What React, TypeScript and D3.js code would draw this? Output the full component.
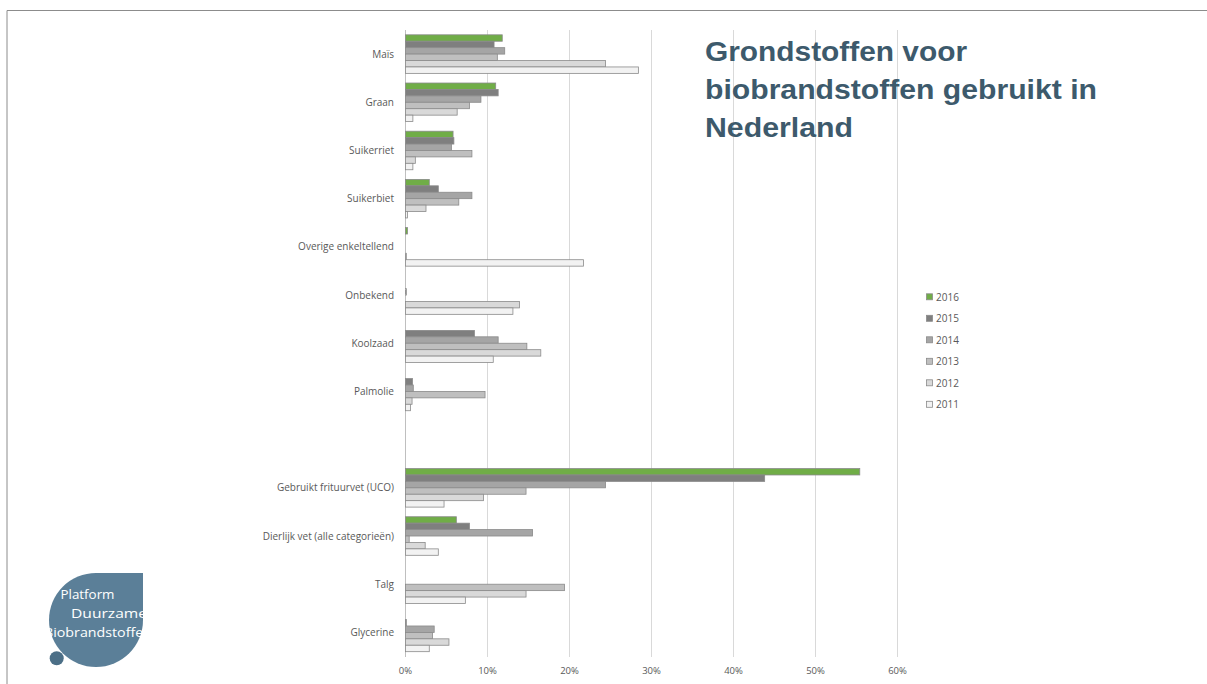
import React from "react";
import * as d3 from "d3";

const categories = [
  "Maïs",
  "Graan",
  "Suikerriet",
  "Suikerbiet",
  "Overige enkeltellend",
  "Onbekend",
  "Koolzaad",
  "Palmolie",
  "",
  "Gebruikt frituurvet (UCO)",
  "Dierlijk vet (alle categorieën)",
  "Talg",
  "Glycerine",
];

const years = ["2016", "2015", "2014", "2013", "2012", "2011"];

const values2016 = [11.8, 11.0, 5.8, 2.9, 0.25, 0, 0, 0, 0, 55.4, 6.2, 0, 0];
const values2015 = [10.8, 11.3, 5.9, 4.0, 0, 0, 8.4, 0.85, 0, 43.8, 7.8, 0, 0.1];
const values2014 = [12.1, 9.2, 5.6, 8.1, 0, 0.1, 11.3, 0.95, 0, 24.4, 15.5, 0, 3.5];
const values2013 = [11.2, 7.8, 8.1, 6.5, 0, 0, 14.8, 9.7, 0, 14.7, 0.45, 19.4, 3.3];
const values2012 = [24.4, 6.3, 1.2, 2.5, 0.1, 13.9, 16.5, 0.8, 0, 9.5, 2.4, 14.7, 5.3];
const values2011 = [28.4, 0.9, 0.9, 0.25, 21.7, 13.1, 10.7, 0.6, 0, 4.7, 4.0, 7.3, 2.9];

const xTicks = [0, 10, 20, 30, 40, 50, 60];

const titleLines = ["Grondstoffen voor", "biobrandstoffen gebruikt in", "Nederland"];

const logoLines = ["Platform", "Duurzame", "Biobrandstoffen"];

const seriesValues: Record<string, number[]> = {
  "2016": values2016,
  "2015": values2015,
  "2014": values2014,
  "2013": values2013,
  "2012": values2012,
  "2011": values2011,
};

const colors: Record<string, string> = {
  "2016": "#70ad47",
  "2015": "#7f7f7f",
  "2014": "#a5a5a5",
  "2013": "#bfbfbf",
  "2012": "#d9d9d9",
  "2011": "#f2f2f2",
};

export default function App() {
  const W = 1207;
  const H = 684;
  const x0 = 405.5;
  const x = d3.scaleLinear().domain([0, 60]).range([x0, x0 + 8.2 * 60]);
  const y = d3
    .scaleBand<string>()
    .domain(categories.map((c, i) => i + ":" + c))
    .range([30, 656.5])
    .paddingInner(0.2)
    .paddingOuter(0.1);
  const yInner = d3.scaleBand<string>().domain(years).range([0, y.bandwidth()]);
  const labelFont = "'Open Sans', 'Liberation Sans', sans-serif";
  const titleWidths = [262, 392, 148];
  const logoX = [60.5, 71, 44];
  const logoW = [54, 76, 108];

  // logo shape
  const cx = 96,
    cy = 620,
    r = 47;
  const logoPath = `M ${cx} ${cy - r} L ${cx + r} ${cy - r} L ${cx + r} ${cy} A ${r} ${r} 0 0 1 ${cx} ${cy + r} A ${r} ${r} 0 0 1 ${cx - r} ${cy} A ${r} ${r} 0 0 1 ${cx} ${cy - r} Z`;

  return (
    <svg
      width={W}
      height={H}
      style={{ position: "absolute", left: 0, top: 0, background: "#fff" }}
    >
      <defs>
        <clipPath id="logoClip">
          <rect x={30} y={560} width={114} height={124} />
        </clipPath>
      </defs>
      {/* frame */}
      <path d={`M 7 ${H + 2} L 7 10.5 L ${W + 2} 10.5`} fill="none" stroke="#8c8c8c" strokeWidth={1} />

      {/* gridlines */}
      {xTicks.map((t) => (
        <line
          key={t}
          x1={x(t)}
          x2={x(t)}
          y1={30}
          y2={657}
          stroke={t === 0 ? "#bfbfbf" : "#d9d9d9"}
          strokeWidth={1}
        />
      ))}

      {/* bars */}
      {categories.map((c, i) => {
        const key = i + ":" + c;
        const by = y(key) as number;
        return (
          <g key={key}>
            {years.map((yr) => {
              const v = seriesValues[yr][i];
              if (!v) return null;
              return (
                <rect
                  key={yr}
                  x={x(0)}
                  y={by + (yInner(yr) as number)}
                  width={x(v) - x(0)}
                  height={yInner.bandwidth()}
                  fill={colors[yr]}
                  stroke="#8a8a8a"
                  strokeWidth={0.8}
                />
              );
            })}
            {c && (
              <text
                x={394}
                y={by + y.bandwidth() / 2}
                dy="0.35em"
                textAnchor="end"
                fontFamily={labelFont}
                fontSize={10}
                fill="#595959"
              >
                {c}
              </text>
            )}
          </g>
        );
      })}

      {/* x tick labels */}
      {xTicks.map((t) => (
        <text
          key={t}
          x={x(t)}
          y={671}
          dy="0.35em"
          textAnchor="middle"
          fontFamily={labelFont}
          fontSize={9.5}
          fill="#595959"
        >
          {t + "%"}
        </text>
      ))}

      {/* legend */}
      {years.map((yr, i) => (
        <g key={yr} transform={`translate(926, ${297.3 + i * 21.5})`}>
          <rect x={0.5} y={-3.5} width={6} height={6} fill={colors[yr]} stroke="#8a8a8a" strokeWidth={0.8} />
          <text x={10} y={0} dy="0.35em" fontFamily={labelFont} fontSize={10} fill="#595959">
            {yr}
          </text>
        </g>
      ))}

      {/* title */}
      {titleLines.map((l, i) => (
        <text
          key={i}
          x={705}
          y={61 + i * 37.8}
          fontFamily="'Liberation Sans', Arial, sans-serif"
          fontWeight="bold"
          fontSize={28}
          fill="#3d5a6c"
          textLength={titleWidths[i]}
          lengthAdjust="spacingAndGlyphs"
        >
          {l}
        </text>
      ))}

      {/* logo */}
      <g clipPath="url(#logoClip)">
        <path d={logoPath} fill="#5b7f98" />
        <circle cx={56.7} cy={658.3} r={7} fill="#4c6f87" />
        {logoLines.map((l, i) => (
          <text
            key={l}
            x={logoX[i]}
            y={599 + i * 19}
            fontFamily={labelFont}
            fontSize={13.5}
            fill="#fff"
            textLength={logoW[i]}
            lengthAdjust="spacingAndGlyphs"
          >
            {l}
          </text>
        ))}
      </g>
    </svg>
  );
}
